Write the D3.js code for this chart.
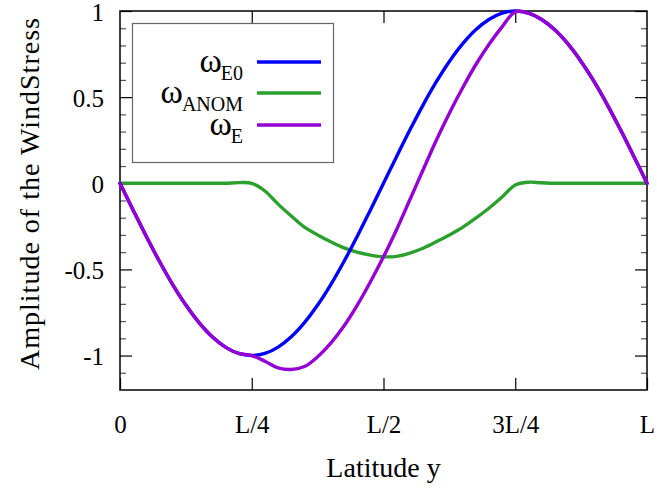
<!DOCTYPE html>
<html>
<head>
<meta charset="utf-8">
<script src="https://cdn.jsdelivr.net/npm/d3@7/dist/d3.min.js"></script>
<style>
  html, body { margin: 0; padding: 0; background: #fff; }
  svg { display: block; }
  svg text { font-family: "Liberation Serif", "Times New Roman", Times, serif; fill: #000; }
</style>
</head>
<body>
<svg id="chart" width="657" height="489"></svg>
<script>
// Latitude samples, as fractions of the basin width L
const latitude = d3.range(0, 41).map(i => i / 40);

// Equilibrium wind-stress profile
const omegaE0 = [0, -0.156, -0.309, -0.454, -0.588, -0.707, -0.809, -0.891, -0.951, -0.988,
  -1, -0.988, -0.951, -0.891, -0.809, -0.707, -0.588, -0.454, -0.309, -0.156,
  0, 0.156, 0.309, 0.454, 0.588, 0.707, 0.809, 0.891, 0.951, 0.988,
  1, 0.988, 0.951, 0.891, 0.809, 0.707, 0.588, 0.454, 0.309, 0.156, 0];

// Anomaly, confined between L/4 and 3L/4
const omegaAnom = [0, 0, 0, 0, 0, 0, 0, 0, 0, 0.004,
  0, -0.045, -0.121, -0.19, -0.255, -0.3, -0.34, -0.375, -0.4, -0.417,
  -0.427, -0.424, -0.405, -0.377, -0.34, -0.3, -0.256, -0.203, -0.145, -0.08,
  -0.01, 0.006, 0.003, 0, 0, 0, 0, 0, 0, 0, 0];

// Total wind stress
const omegaE = [0, -0.156, -0.309, -0.454, -0.588, -0.707, -0.809, -0.891, -0.951, -0.988,
  -1, -1.033, -1.072, -1.081, -1.064, -1.007, -0.928, -0.829, -0.709, -0.573,
  -0.427, -0.268, -0.096, 0.077, 0.248, 0.407, 0.553, 0.688, 0.806, 0.908,
  0.995, 0.988, 0.951, 0.891, 0.809, 0.707, 0.588, 0.454, 0.309, 0.156, 0];

const xTickValues = [0, 0.25, 0.5, 0.75, 1];
const xTickLabels = ["0", "L/4", "L/2", "3L/4", "L"];
const yTickValues = [-1, -0.5, 0, 0.5, 1];
const yTickLabels = ["-1", "-0.5", "0", "0.5", "1"];
const yMinorTicks = [-1.1, -0.9, -0.8, -0.7, -0.6, -0.4, -0.3, -0.2, -0.1,
  0.1, 0.2, 0.3, 0.4, 0.6, 0.7, 0.8, 0.9];

const seriesSymbol = ["ω", "ω", "ω"];
const seriesSub = ["E0", "ANOM", "E"];
const seriesColor = ["#0000ff", "#2ca02c", "#9400d3"];
const seriesValues = [omegaE0, omegaAnom, omegaE];

const xLabel = "Latitude y";
const yLabel = "Amplitude of the WindStress";

const plotLeft = 120, plotRight = 647, plotTop = 11, plotBottom = 390;
const svg = d3.select("#chart");

const x = d3.scaleLinear().domain([0, 1]).range([plotLeft, plotRight]);
const y = d3.scaleLinear().domain([-1.2, 1]).range([plotBottom, plotTop]);

// Tick marks (inward, on all four sides)
function styleAxis(g) {
  g.select(".domain").remove();
  g.attr("font-family", null).attr("font-size", null);
  g.selectAll("line").attr("stroke", "#000").attr("stroke-width", 1.2);
}
function styleLabels(g) {
  g.selectAll("text").style("font-size", "25px");
}
svg.append("g").attr("transform", `translate(0,${plotBottom})`)
  .call(d3.axisBottom(x).tickValues(xTickValues).tickSizeInner(-12).tickSizeOuter(0)
    .tickPadding(25).tickFormat((d, i) => xTickLabels[i]))
  .call(styleAxis).call(styleLabels);
svg.append("g").attr("transform", `translate(0,${plotTop})`)
  .call(d3.axisTop(x).tickValues(xTickValues.slice(1, -1)).tickSizeInner(-12).tickSizeOuter(0)
    .tickFormat(""))
  .call(styleAxis);
svg.append("g").attr("transform", `translate(${plotLeft},0)`)
  .call(d3.axisLeft(y).tickValues(yTickValues).tickSizeInner(-12).tickSizeOuter(0)
    .tickPadding(16).tickFormat((d, i) => yTickLabels[i]))
  .call(styleAxis).call(styleLabels)
  .call(g => g.selectAll("text").attr("dy", "0.36em"));
svg.append("g").attr("transform", `translate(${plotLeft},0)`)
  .call(d3.axisLeft(y).tickValues(yMinorTicks).tickSizeInner(-6).tickSizeOuter(0).tickFormat(""))
  .call(styleAxis)
  .call(g => g.selectAll("line").attr("stroke", "#555"));
svg.append("g").attr("transform", `translate(${plotRight},0)`)
  .call(d3.axisRight(y).tickValues(yTickValues).tickSizeInner(-12).tickSizeOuter(0).tickFormat(""))
  .call(styleAxis);
svg.append("g").attr("transform", `translate(${plotRight},0)`)
  .call(d3.axisRight(y).tickValues(yMinorTicks).tickSizeInner(-6).tickSizeOuter(0).tickFormat(""))
  .call(styleAxis)
  .call(g => g.selectAll("line").attr("stroke", "#555"));

// Plot frame
svg.append("rect")
  .attr("x", plotLeft).attr("y", plotTop)
  .attr("width", plotRight - plotLeft).attr("height", plotBottom - plotTop)
  .attr("fill", "none").attr("stroke", "#000").attr("stroke-width", 1.5);

// Curves
const line = d3.line()
  .x((d, i) => x(latitude[i]))
  .y(d => y(d))
  .curve(d3.curveCatmullRom.alpha(0.5));

const drawOrder = [1, 0, 2];
svg.append("g").selectAll("path")
  .data(drawOrder)
  .join("path")
  .attr("d", k => line(seriesValues[k]))
  .attr("fill", "none")
  .attr("stroke", k => seriesColor[k])
  .attr("stroke-width", 3.4)
  .attr("stroke-linejoin", "round")
  .attr("stroke-linecap", "round");

// Legend: symbol and subscript drawn as separate texts
const legend = svg.append("g");
legend.append("rect")
  .attr("x", 132.5).attr("y", 23.5).attr("width", 201).attr("height", 139)
  .attr("fill", "#fff").attr("stroke", "#666").attr("stroke-width", 1.2);
const rowY = [62, 93, 125];
const subRight = 243;
seriesSymbol.forEach((s, i) => {
  legend.append("line")
    .attr("x1", 257).attr("x2", 321)
    .attr("y1", rowY[i]).attr("y2", rowY[i])
    .attr("stroke", seriesColor[i]).attr("stroke-width", 3.4);
  const sub = legend.append("text")
    .attr("x", subRight).attr("y", rowY[i] + 18)
    .attr("text-anchor", "end")
    .style("font-size", "20px")
    .text(seriesSub[i]);
  const subWidth = sub.node().getComputedTextLength();
  legend.append("text")
    .attr("x", subRight - subWidth + 1).attr("y", rowY[i] + 10)
    .attr("text-anchor", "end")
    .style("font-size", "34px")
    .text(s);
});

// Axis titles
svg.append("text")
  .attr("x", (plotLeft + plotRight) / 2).attr("y", 477)
  .attr("text-anchor", "middle").style("font-size", "28px")
  .text(xLabel);
svg.append("text")
  .attr("transform", "translate(39,194) rotate(-90)")
  .attr("text-anchor", "middle").style("font-size", "28px")
  .attr("textLength", 352).attr("lengthAdjust", "spacing")
  .text(yLabel);
</script>
</body>
</html>
